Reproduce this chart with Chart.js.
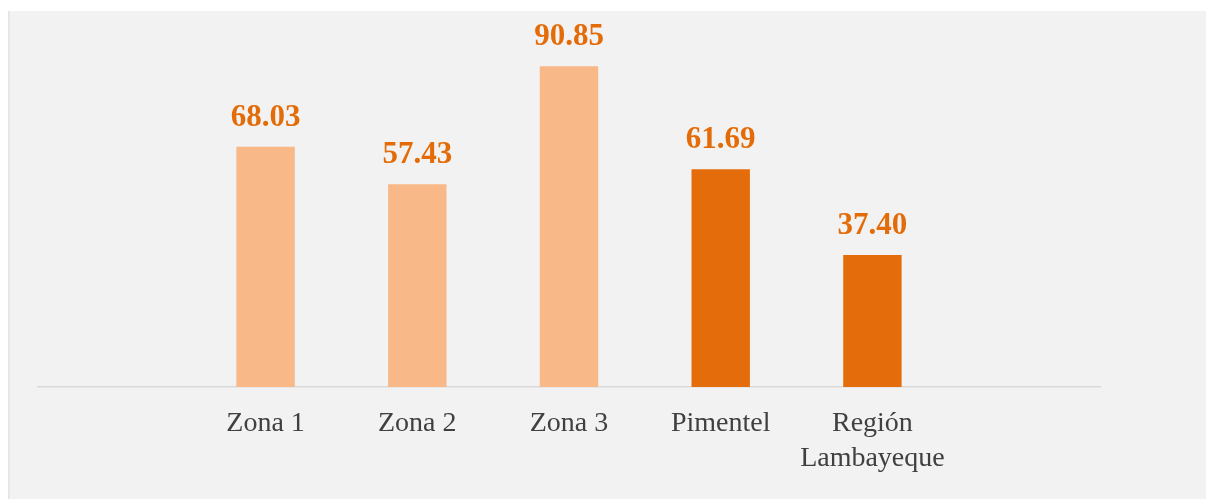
<!DOCTYPE html>
<html>
<head>
<meta charset="utf-8">
<script src="https://cdn.jsdelivr.net/npm/chart.js@4"></script>
<style>
  html, body { margin: 0; padding: 0; background: #ffffff; }
  #wrap { position: absolute; left: 8px; top: 11px; width: 1198px; height: 488px; background: #f2f2f2; border-left: 2px solid #e6e6e6; box-sizing: border-box; }
</style>
</head>
<body>
<div id="wrap"><canvas id="chart" width="1196" height="488"></canvas></div>
<script>
// empty categories at both ends keep the original spacing
const categories = ['', 'Zona 1', 'Zona 2', 'Zona 3', 'Pimentel', ['Región', 'Lambayeque'], ''];
const values = [null, 68.03, 57.43, 90.85, 61.69, 37.40, null];
const barColors = ['#f8b887', '#f8b887', '#f8b887', '#f8b887', '#e46c0a', '#e46c0a', '#e46c0a'];

const valueLabels = {
  id: 'valueLabels',
  afterDatasetsDraw(chart) {
    const ctx = chart.ctx;
    const meta = chart.getDatasetMeta(0);
    ctx.save();
    ctx.fillStyle = '#e36c09';
    ctx.font = 'bold 31px "Liberation Serif", serif';
    ctx.textAlign = 'center';
    ctx.textBaseline = 'alphabetic';
    meta.data.forEach((bar, i) => {
      if (values[i] == null) return;
      ctx.fillText(values[i].toFixed(2), bar.x, bar.y - 21);
    });
    ctx.restore();
  }
};

new Chart(document.getElementById('chart'), {
  type: 'bar',
  data: {
    labels: categories,
    datasets: [{
      data: values,
      backgroundColor: barColors,
      borderWidth: 0,
      barPercentage: 0.385,
      categoryPercentage: 1,
    }],
  },
  options: {
    responsive: false,
    animation: false,
    layout: { padding: { left: 28, right: 106, top: 23, bottom: 0 } },
    plugins: { legend: { display: false }, tooltip: { enabled: false } },
    scales: {
      x: {
        grid: { display: false },
        border: { color: '#d9d9d9', width: 1.5 },
        ticks: {
          color: '#404040',
          font: { family: '"Liberation Serif", serif', size: 28, lineHeight: 1.25 },
          padding: 11,
          maxRotation: 0,
          autoSkip: false,
        },
        afterFit: s => { s.height = 112; },
      },
      y: { display: false, min: 0, max: 100 },
    },
  },
  plugins: [valueLabels],
});
</script>
</body>
</html>
